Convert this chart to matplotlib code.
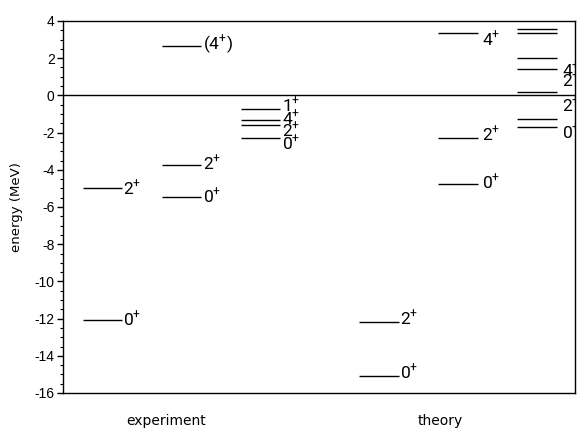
import matplotlib
matplotlib.use("Agg")
import matplotlib.pyplot as plt
from matplotlib import font_manager as fm
from matplotlib.ticker import MultipleLocator

# ---------------- data ----------------
# experiment columns
exp1_E = [-5.0, -12.07]
exp1_lab = ['2', '0']
exp1_laby = [-5.0, -12.07]

exp2_E = [2.64, -3.72, -5.45]
exp2_lab = ['(4)', '2', '0']
exp2_laby = [2.70, -3.66, -5.42]

exp3_E = [-0.73, -1.30, -1.59, -2.27]
exp3_lab = ['1', '4', '2', '0']
exp3_laby = [-0.57, -1.24, -1.91, -2.58]

# theory columns
th1_E = [-12.2, -15.08]
th1_lab = ['2', '0']
th1_laby = [-12.02, -14.92]

th2_E = [3.37, -2.27, -4.78]
th2_lab = ['4', '2', '0']
th2_laby = [2.98, -2.12, -4.71]

th3_E = [3.59, 3.34, 2.03, 1.42, 0.20, -1.27, -1.68]
th3_lab = ['', '', '', '4', '2', '2', '0']
th3_laby = [0, 0, 0, 1.32, 0.78, -0.56, -1.99]

group_names = ['experiment', 'theory']
group_pos = [1.30, 4.78]

columns = [
    (0.25, exp1_E, exp1_lab, exp1_laby),
    (1.25, exp2_E, exp2_lab, exp2_laby),
    (2.25, exp3_E, exp3_lab, exp3_laby),
    (3.75, th1_E, th1_lab, th1_laby),
    (4.75, th2_E, th2_lab, th2_laby),
    (5.75, th3_E, th3_lab, th3_laby),
]
label_gap = [0.01, 0.02, 0.02, 0.01, 0.06, 0.07]

# ---------------- fonts ----------------
def have(name):
    try:
        fm.findfont(fm.FontProperties(family=name), fallback_to_default=False)
        return True
    except Exception:
        return False

narrow = 'Roboto' if have('Roboto') else 'DejaVu Sans'
tickfont = 'Liberation Sans' if have('Liberation Sans') else 'DejaVu Sans'

plt.rcParams['axes.unicode_minus'] = False
plt.rcParams['mathtext.fontset'] = 'custom'
plt.rcParams['mathtext.rm'] = narrow
plt.rcParams['mathtext.it'] = narrow
plt.rcParams['mathtext.bf'] = narrow

# ---------------- figure ----------------
fig = plt.figure(figsize=(5.77, 4.30), dpi=100)
ax = fig.add_axes([63 / 577, 1 - 393 / 430, 512 / 577, 372 / 430])

width = 0.5
for (x0, Es, labs, labys), gap in zip(columns, label_gap):
    ax.hlines(Es, x0, x0 + width, colors='black', linewidth=1.0)
    for lab, ly in zip(labs, labys):
        if not lab:
            continue
        if lab.startswith('('):
            s = '(' + lab[1:-1] + r'$^{+}$)'
        else:
            s = lab + r'$^{+}$'
        ax.text(x0 + width + gap, ly, s, ha='left', va='center',
                fontsize=12.5, family=narrow, clip_on=True)

ax.axhline(0, color='black', linewidth=1.0)

ax.set_xlim(0, 512 / 79)
ax.set_ylim(-16, 4)
ax.yaxis.set_major_locator(MultipleLocator(2))
ax.yaxis.set_minor_locator(MultipleLocator(0.5))
ax.tick_params(axis='y', which='major', direction='out', length=4.5, width=1,
               pad=1.5, labelsize=10)
ax.tick_params(axis='y', which='minor', direction='out', length=2.2, width=0.8)
for t in ax.get_yticklabels():
    t.set_family(tickfont)

ax.set_xticks(group_pos)
ax.set_xticklabels(group_names, family='DejaVu Sans', fontsize=10)
ax.tick_params(axis='x', which='both', length=0, pad=15)

for sp in ax.spines.values():
    sp.set_linewidth(1.0)

ax.set_ylabel('energy (MeV)', family='DejaVu Sans', fontsize=9.5)
ax.yaxis.set_label_coords(-0.078, 0.5)

fig.savefig('out.png', dpi=100)
